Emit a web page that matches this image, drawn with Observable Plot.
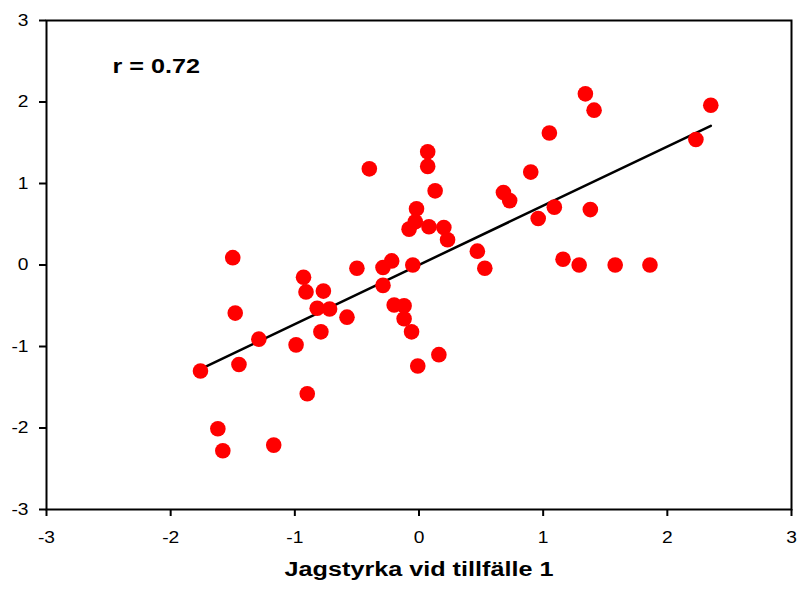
<!DOCTYPE html>
<html><head><meta charset="utf-8">
<script src="https://cdn.jsdelivr.net/npm/d3@7"></script>
<script src="https://cdn.jsdelivr.net/npm/@observablehq/plot@0.6"></script>
<style>html,body{margin:0;padding:0;background:#fff} svg{display:block}</style>
</head><body><div id="chart"></div>
<script>
const xValues = [-1.76,-1.62,-1.58,-1.50,-1.48,-1.45,-1.29,-1.17,-0.99,-0.93,-0.91,-0.90,-0.82,-0.79,-0.77,-0.72,-0.58,-0.50,-0.40,-0.29,-0.29,-0.22,-0.20,-0.12,-0.12,-0.06,-0.05,-0.01,0.16,-0.08,-0.03,-0.02,0.08,0.23,0.20,0.13,0.07,0.07,0.47,0.53,0.68,0.73,0.90,0.96,1.09,1.05,1.34,1.41,1.38,1.16,1.29,1.58,1.86,2.23,2.35];
const yValues = [-1.30,-2.01,-2.28,0.09,-0.59,-1.22,-0.91,-2.21,-0.98,-0.15,-0.33,-1.58,-0.53,-0.82,-0.32,-0.54,-0.64,-0.04,1.18,-0.03,-0.25,0.05,-0.49,-0.50,-0.66,-0.82,0.00,-1.24,-1.10,0.44,0.53,0.69,0.47,0.31,0.46,0.91,1.21,1.39,0.17,-0.04,0.89,0.79,1.14,0.57,0.71,1.62,2.10,1.90,0.68,0.07,0.00,0.00,0.00,1.54,1.96];
const xTicks = [-3,-2,-1,0,1,2,3];
const yTicks = [-3,-2,-1,0,1,2,3];
const xTitle = "Jagstyrka vid tillfälle 1";
const rLabel = "r = 0.72";

const points = xValues.map((x, i) => ({x, y: yValues[i]}));

const chart = Plot.plot({
  width: 797, height: 589,
  marginLeft: 46, marginRight: 6, marginTop: 20, marginBottom: 80,
  style: {fontFamily: "'Liberation Sans', Arial, sans-serif", background: "white", color: "black"},
  x: {domain: [-3, 3]},
  y: {domain: [-3, 3]},
  marks: [
    Plot.frame({stroke: "black", strokeWidth: 2}),
    Plot.axisX({ticks: xTicks, tickSize: 7, strokeWidth: 2, label: null, tickFormat: () => ""}),
    Plot.axisY({ticks: yTicks, tickSize: 7, strokeWidth: 2, label: null, tickFormat: () => ""}),
    Plot.text(xTicks, {x: d => d, y: -3, text: d => String(d), lineAnchor: "top", dy: 22, fontSize: 16, fill: "black"}),
    Plot.text(yTicks, {x: -3, y: d => d, text: d => String(d), textAnchor: "end", dx: -18, fontSize: 16, fill: "black"}),
    Plot.linearRegressionY(points, {x: "x", y: "y", stroke: "black", strokeWidth: 2.5, ci: 0}),
    Plot.dot(points, {x: "x", y: "y", r: 7.8, fill: "#ff0000", stroke: "none"}),
    Plot.text([rLabel], {text: d => d, frameAnchor: "top-left", dx: 66, dy: 38, textAnchor: "start", fontSize: 21, fontWeight: "bold"}),
    Plot.text([xTitle], {text: d => d, frameAnchor: "bottom", dy: 66, fontSize: 21, fontWeight: "bold"})
  ]
});

d3.select(chart).selectAll("text").each(function() {
  const t = this.getAttribute("transform") || "";
  this.setAttribute("transform", t + " scale(1.2,1)");
});

document.getElementById("chart").appendChild(chart);
</script>
</body></html>
